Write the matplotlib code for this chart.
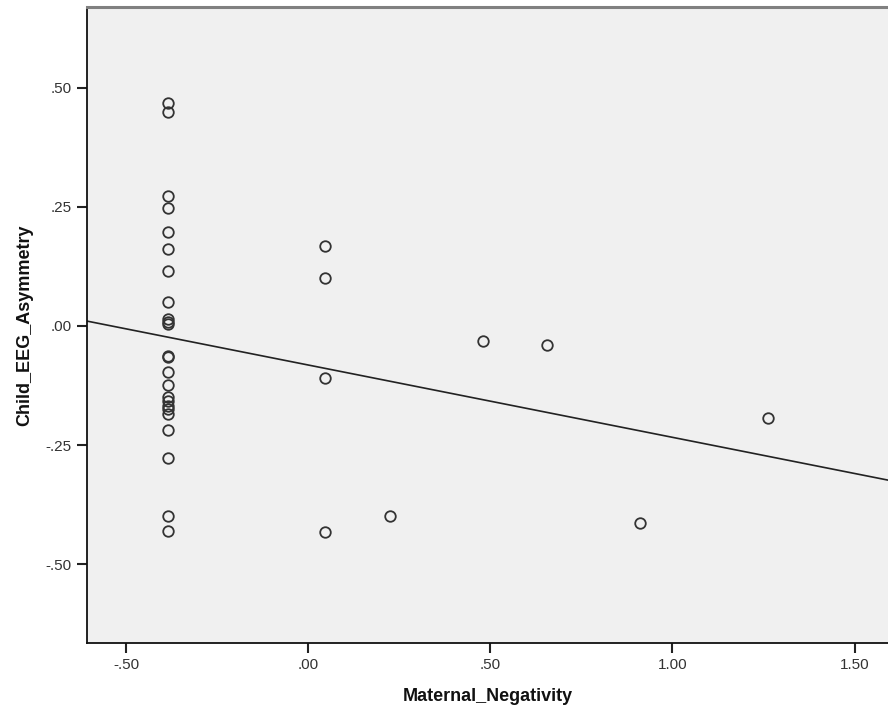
import numpy as np
import matplotlib
matplotlib.use("Agg")
import matplotlib.pyplot as plt

plt.rcParams['font.family'] = ['Liberation Sans', 'DejaVu Sans']

# Data
maternal_negativity = [-0.386] * 24 + [0.045, 0.045, 0.045, 0.045, 0.224, 0.479, 0.655, 0.911, 1.262]
child_eeg_asymmetry = [
    0.468, 0.449, 0.2725, 0.2467, 0.1977, 0.1608, 0.1153, 0.0509, 0.015, 0.009, 0.005,
    -0.063, -0.066, -0.0964, -0.1237, -0.150, -0.158, -0.167, -0.175, -0.184, -0.218,
    -0.2774, -0.398, -0.430,
    0.168, 0.101, -0.109, -0.432, -0.398, -0.031, -0.040, -0.413, -0.193,
]

x_ticks = [-0.5, 0.0, 0.5, 1.0, 1.5]
x_tick_labels = ["-.50", ".00", ".50", "1.00", "1.50"]
y_ticks = [-0.5, -0.25, 0.0, 0.25, 0.5]
y_tick_labels = ["-.50", "-.25", ".00", ".25", ".50"]

x = np.array(maternal_negativity)
y = np.array(child_eeg_asymmetry)

fig = plt.figure(figsize=(8.88, 7.17), dpi=100)
ax = fig.add_axes([87/888, 1 - 643/717, 1 - 87/888, (643 - 7)/717])
ax.set_facecolor('#F0F0F0')

xlim = (-0.608, 1.592)
ylim = (-0.665, 0.669)
ax.set_xlim(*xlim)
ax.set_ylim(*ylim)

ax.plot(x, y, linestyle='none', marker='o', markersize=7.6,
        markerfacecolor='none', markeredgecolor='#333333', markeredgewidth=1.3, zorder=3)

slope, intercept = np.polyfit(x, y, 1)
xl = np.array(xlim)
ax.plot(xl, intercept + slope * xl, color='#222222', linewidth=1.2, zorder=2)

ax.set_xticks(x_ticks)
ax.set_xticklabels(x_tick_labels)
ax.set_yticks(y_ticks)
ax.set_yticklabels(y_tick_labels)
ax.tick_params(axis='both', direction='out', length=7, width=1.5, color='#222222',
               labelsize=11, labelcolor='#333333', pad=4)

ax.spines['right'].set_visible(False)
ax.spines['top'].set_color('#808080')
ax.spines['top'].set_linewidth(2.2)
ax.spines['left'].set_color('#111111')
ax.spines['left'].set_linewidth(1.3)
ax.spines['bottom'].set_color('#111111')
ax.spines['bottom'].set_linewidth(1.3)

ax.set_xlabel('Maternal_Negativity', fontsize=13, fontweight='bold', labelpad=11, color='#111111')
ax.set_ylabel('Child_EEG_Asymmetry', fontsize=13, fontweight='bold', labelpad=9, color='#111111')

fig.savefig('out.png', dpi=100)
